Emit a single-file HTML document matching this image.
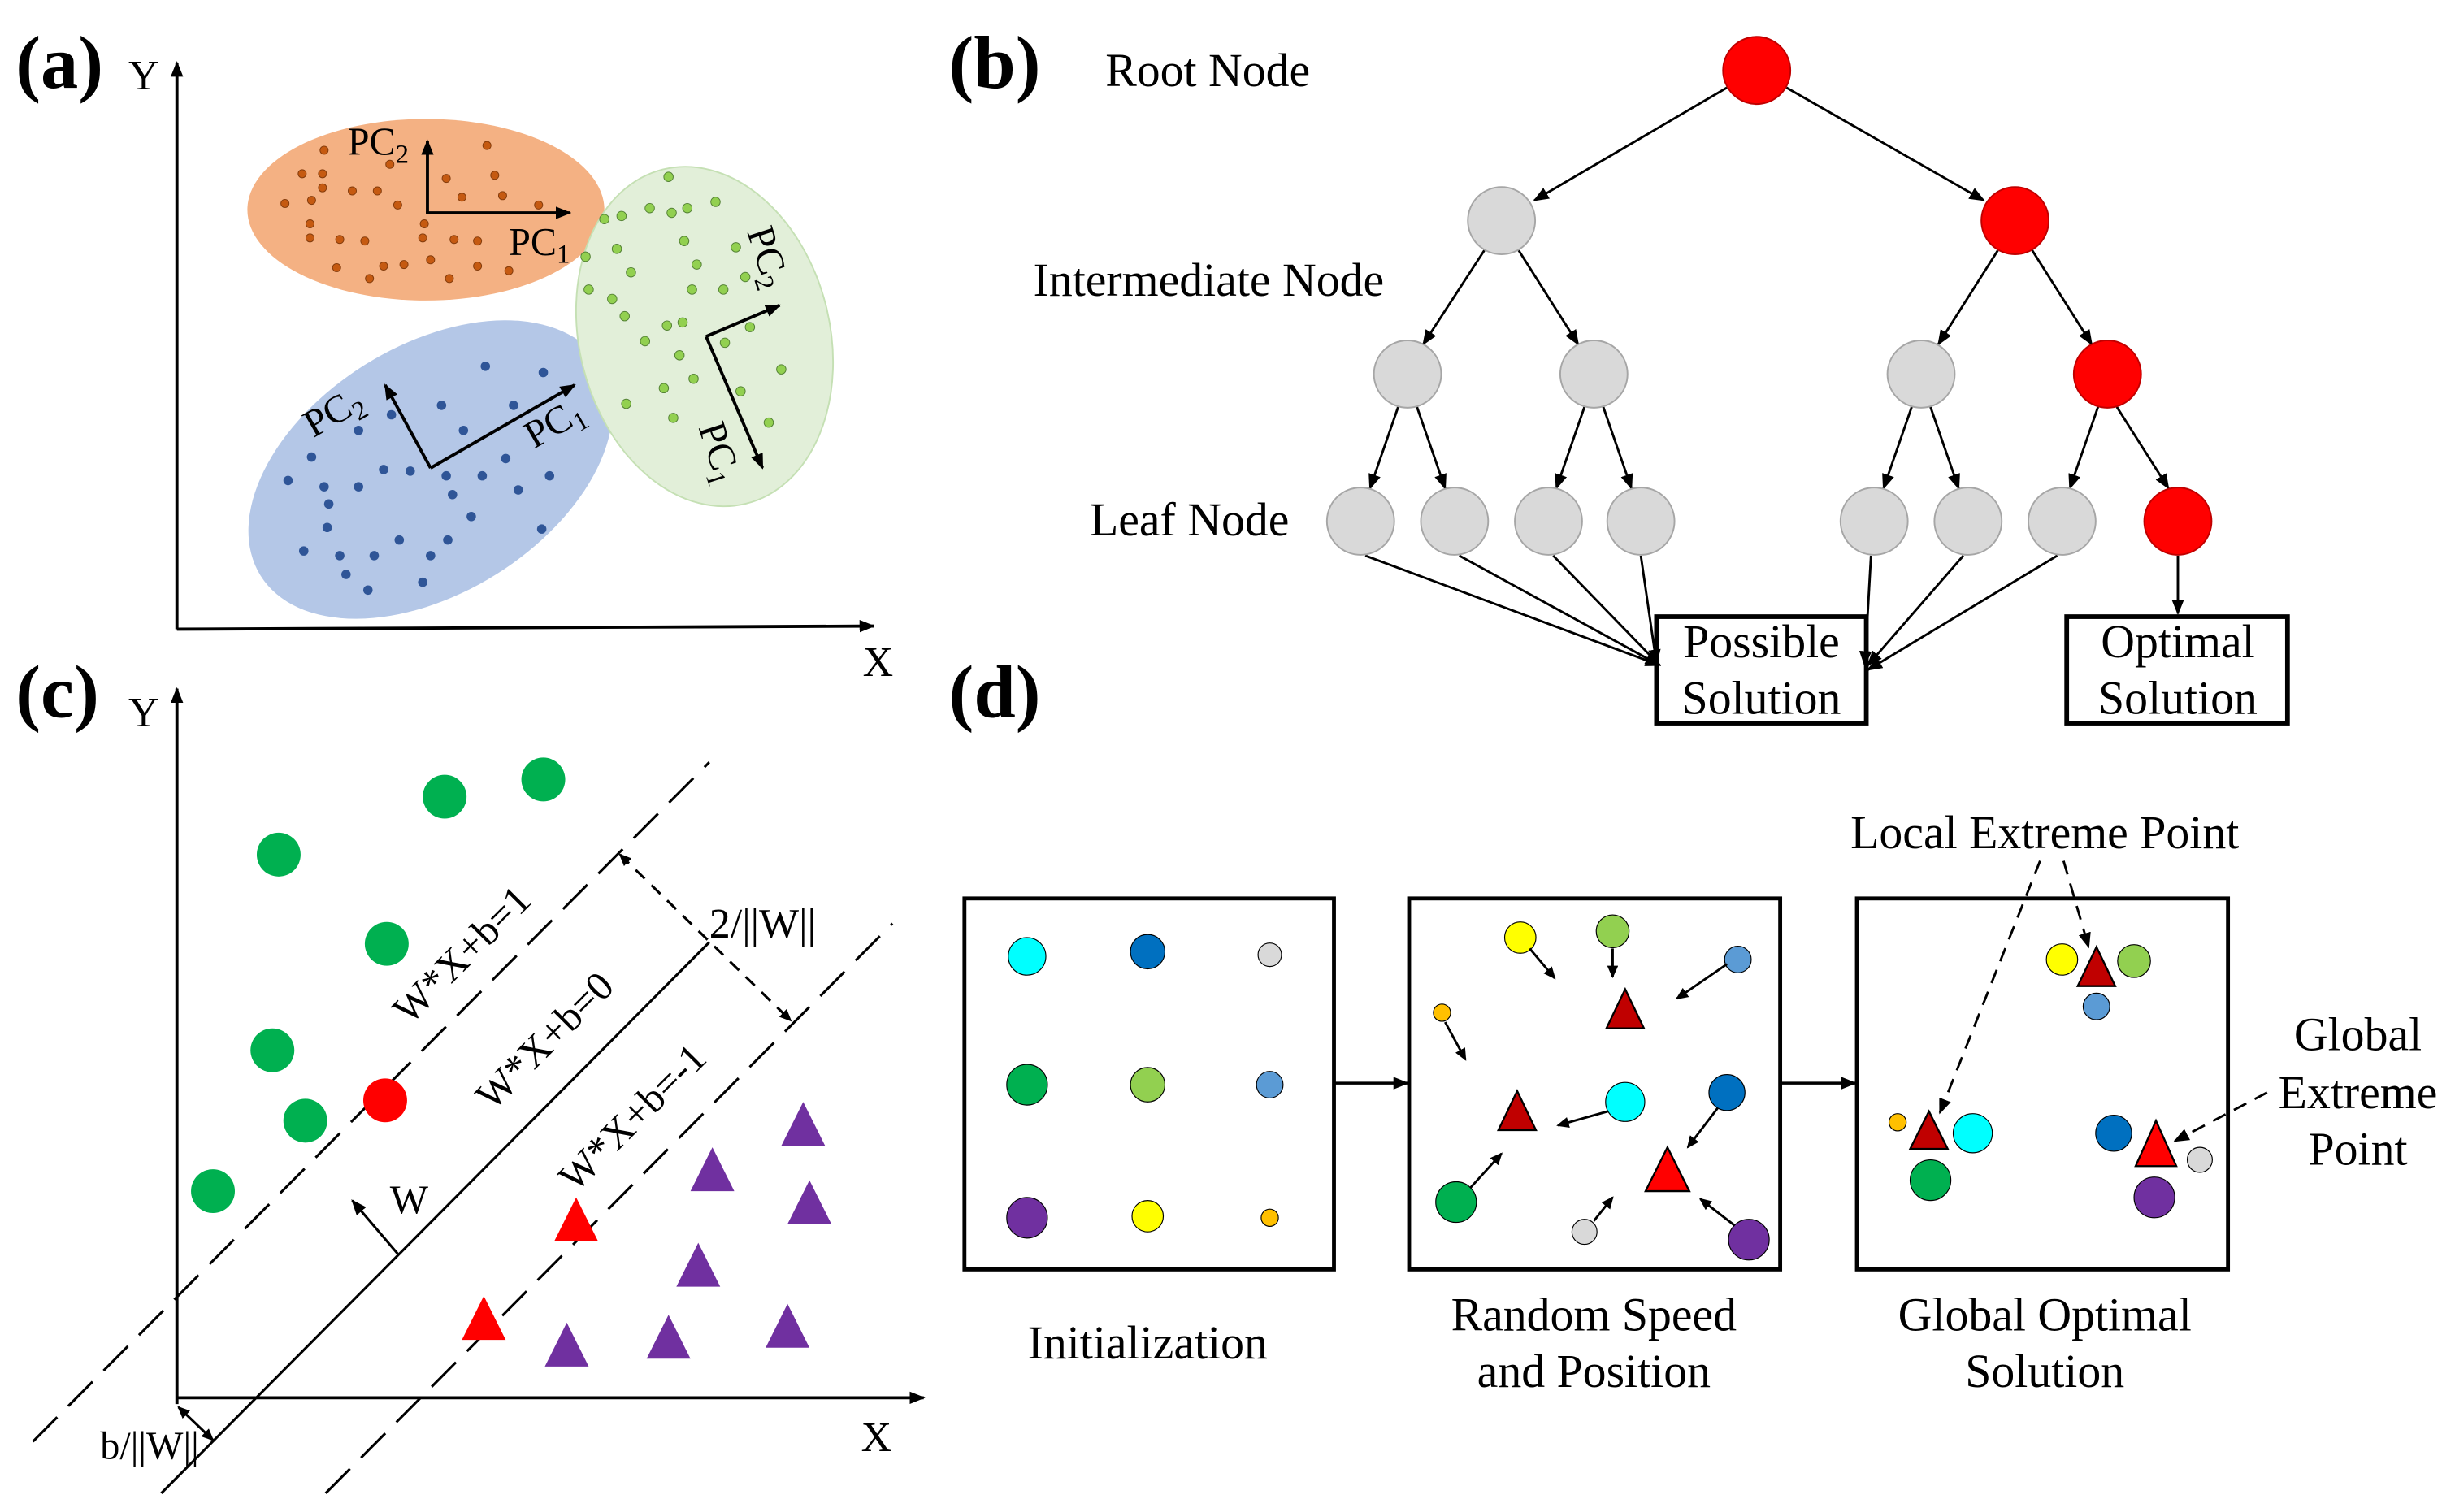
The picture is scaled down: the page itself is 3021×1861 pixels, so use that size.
<!DOCTYPE html>
<html><head><meta charset="utf-8"><style>html,body{margin:0;padding:0;background:#fff}svg{display:block}</style></head><body>
<svg width="3021" height="1861" viewBox="0 0 1568 966" preserveAspectRatio="none" xmlns="http://www.w3.org/2000/svg" font-family="Liberation Serif, serif">
<defs>
<marker id="ah" markerWidth="10" markerHeight="8" refX="9" refY="4" orient="auto" markerUnits="userSpaceOnUse"><path d="M0,0L10,4L0,8z" fill="#000"/></marker>
<marker id="ahs" markerWidth="8" markerHeight="7" refX="7" refY="3.5" orient="auto-start-reverse" markerUnits="userSpaceOnUse"><path d="M0,0L8,3.5L0,7z" fill="#000"/></marker>
</defs>
<!-- (a) -->
<text x="10" y="56" font-size="48" font-weight="bold">(a)</text>
<text x="82" y="57" font-size="27">Y</text>
<text x="551" y="432" font-size="27">X</text>
<line x1="113" y1="402" x2="113" y2="40" stroke="#000" stroke-width="2" marker-end="url(#ah)"/>
<line x1="113" y1="402" x2="558" y2="400" stroke="#000" stroke-width="2" marker-end="url(#ah)"/>
<ellipse cx="272" cy="134" rx="114" ry="58" fill="#f4b183"/>
<ellipse cx="275" cy="300" rx="128" ry="79" transform="rotate(-32 275 300)" fill="#b4c7e7"/>
<ellipse cx="450" cy="215" rx="80" ry="110" transform="rotate(-14 450 215)" fill="#e2efd9" stroke="#c5e0b4"/>
<g fill="#c55a11" stroke="#843c0c" stroke-width="0.5">
<circle cx="207" cy="96" r="2.6"/><circle cx="311" cy="93" r="2.6"/><circle cx="249" cy="105" r="2.6"/><circle cx="193" cy="111" r="2.6"/><circle cx="206" cy="111" r="2.6"/><circle cx="285" cy="114" r="2.6"/><circle cx="316" cy="112" r="2.6"/><circle cx="206" cy="120" r="2.6"/><circle cx="225" cy="122" r="2.6"/><circle cx="241" cy="122" r="2.6"/><circle cx="199" cy="128" r="2.6"/><circle cx="182" cy="130" r="2.6"/><circle cx="254" cy="131" r="2.6"/><circle cx="295" cy="126" r="2.6"/><circle cx="321" cy="125" r="2.6"/><circle cx="344" cy="131" r="2.6"/><circle cx="198" cy="143" r="2.6"/><circle cx="271" cy="143" r="2.6"/><circle cx="198" cy="152" r="2.6"/><circle cx="217" cy="153" r="2.6"/><circle cx="233" cy="154" r="2.6"/><circle cx="270" cy="152" r="2.6"/><circle cx="290" cy="153" r="2.6"/><circle cx="305" cy="154" r="2.6"/><circle cx="215" cy="171" r="2.6"/><circle cx="245" cy="170" r="2.6"/><circle cx="258" cy="169" r="2.6"/><circle cx="275" cy="166" r="2.6"/><circle cx="305" cy="170" r="2.6"/><circle cx="236" cy="178" r="2.6"/><circle cx="287" cy="178" r="2.6"/><circle cx="325" cy="173" r="2.6"/>
</g>
<g fill="#92d050" stroke="#548235" stroke-width="0.5">
<circle cx="427" cy="113" r="3"/><circle cx="457" cy="129" r="3"/><circle cx="415" cy="133" r="3"/><circle cx="429" cy="136" r="3"/><circle cx="439" cy="133" r="3"/><circle cx="386" cy="140" r="3"/><circle cx="397" cy="138" r="3"/><circle cx="374" cy="164" r="3"/><circle cx="394" cy="159" r="3"/><circle cx="437" cy="154" r="3"/><circle cx="470" cy="158" r="3"/><circle cx="445" cy="169" r="3"/><circle cx="403" cy="174" r="3"/><circle cx="476" cy="177" r="3"/><circle cx="376" cy="185" r="3"/><circle cx="391" cy="191" r="3"/><circle cx="442" cy="185" r="3"/><circle cx="462" cy="185" r="3"/><circle cx="399" cy="202" r="3"/><circle cx="426" cy="208" r="3"/><circle cx="436" cy="206" r="3"/><circle cx="479" cy="209" r="3"/><circle cx="412" cy="218" r="3"/><circle cx="463" cy="219" r="3"/><circle cx="434" cy="227" r="3"/><circle cx="499" cy="236" r="3"/><circle cx="443" cy="242" r="3"/><circle cx="424" cy="248" r="3"/><circle cx="473" cy="250" r="3"/><circle cx="400" cy="258" r="3"/><circle cx="430" cy="267" r="3"/><circle cx="491" cy="270" r="3"/>
</g>
<g fill="#2f5597">
<circle cx="310" cy="234" r="3"/><circle cx="347" cy="238" r="3"/><circle cx="282" cy="259" r="3"/><circle cx="328" cy="259" r="3"/><circle cx="250" cy="265" r="3"/><circle cx="229" cy="275" r="3"/><circle cx="296" cy="275" r="3"/><circle cx="199" cy="292" r="3"/><circle cx="323" cy="293" r="3"/><circle cx="245" cy="300" r="3"/><circle cx="262" cy="301" r="3"/><circle cx="285" cy="304" r="3"/><circle cx="308" cy="304" r="3"/><circle cx="351" cy="304" r="3"/><circle cx="184" cy="307" r="3"/><circle cx="207" cy="311" r="3"/><circle cx="229" cy="311" r="3"/><circle cx="289" cy="316" r="3"/><circle cx="331" cy="313" r="3"/><circle cx="210" cy="322" r="3"/><circle cx="301" cy="330" r="3"/><circle cx="209" cy="337" r="3"/><circle cx="346" cy="338" r="3"/><circle cx="255" cy="345" r="3"/><circle cx="286" cy="345" r="3"/><circle cx="194" cy="352" r="3"/><circle cx="217" cy="355" r="3"/><circle cx="239" cy="355" r="3"/><circle cx="275" cy="355" r="3"/><circle cx="221" cy="367" r="3"/><circle cx="270" cy="372" r="3"/><circle cx="235" cy="377" r="3"/>
</g>
<g stroke="#000" stroke-width="2" fill="none">
<line x1="273" y1="136" x2="273" y2="90" marker-end="url(#ah)"/><line x1="272" y1="136" x2="364" y2="136" marker-end="url(#ah)"/>
<line x1="451" y1="215" x2="498" y2="195" marker-end="url(#ah)"/><line x1="451" y1="215" x2="487" y2="299" marker-end="url(#ah)"/>
<line x1="275" y1="299" x2="246" y2="246" marker-end="url(#ah)"/><line x1="275" y1="299" x2="367" y2="246" marker-end="url(#ah)"/>
</g>
<g font-size="25">
<text x="222" y="99">PC<tspan font-size="17" dy="5">2</tspan></text>
<text x="325" y="163">PC<tspan font-size="17" dy="5">1</tspan></text>
<text transform="translate(477,148) rotate(72)">PC<tspan font-size="17" dy="5">2</tspan></text>
<text transform="translate(446,273) rotate(72)">PC<tspan font-size="17" dy="5">1</tspan></text>
<text transform="translate(200,280) rotate(-30)">PC<tspan font-size="17" dy="5">2</tspan></text>
<text transform="translate(341,287) rotate(-30)">PC<tspan font-size="17" dy="5">1</tspan></text>
</g>
<!-- (b) -->
<text x="606" y="56" font-size="48" font-weight="bold">(b)</text>
<g font-size="30">
<text x="706" y="55">Root Node</text>
<text x="660" y="189">Intermediate Node</text>
<text x="696" y="342">Leaf Node</text>
</g>
<g stroke="#000" stroke-width="1.5" marker-end="url(#ah)">
<line x1="1103" y1="56" x2="980" y2="128"/><line x1="1141" y1="56" x2="1267" y2="128"/>
<line x1="948" y1="160" x2="909" y2="220"/><line x1="970" y1="160" x2="1008" y2="220"/>
<line x1="1276" y1="160" x2="1238" y2="220"/><line x1="1298" y1="160" x2="1336" y2="220"/>
<line x1="893" y1="260" x2="875" y2="312"/><line x1="905" y1="260" x2="923" y2="312"/>
<line x1="1012" y1="260" x2="994" y2="312"/><line x1="1024" y1="260" x2="1042" y2="312"/>
<line x1="1221" y1="260" x2="1203" y2="312"/><line x1="1233" y1="260" x2="1251" y2="312"/>
<line x1="1340" y1="260" x2="1322" y2="312"/><line x1="1352" y1="260" x2="1385" y2="312"/>
<line x1="872" y1="355" x2="1060" y2="425"/><line x1="932" y1="355" x2="1060" y2="425"/>
<line x1="992" y1="355" x2="1060" y2="425"/><line x1="1048" y1="355" x2="1058" y2="424"/>
<line x1="1195" y1="355" x2="1191" y2="425"/><line x1="1254" y1="355" x2="1193" y2="425"/>
<line x1="1314" y1="355" x2="1193" y2="428"/><line x1="1391" y1="355" x2="1391" y2="392"/>
</g>
<g fill="#d9d9d9" stroke="#a6a6a6" stroke-width="1">
<circle cx="959" cy="141" r="21.5"/><circle cx="899" cy="239" r="21.5"/><circle cx="1018" cy="239" r="21.5"/><circle cx="1227" cy="239" r="21.5"/>
<circle cx="869" cy="333" r="21.5"/><circle cx="929" cy="333" r="21.5"/><circle cx="989" cy="333" r="21.5"/><circle cx="1048" cy="333" r="21.5"/><circle cx="1197" cy="333" r="21.5"/><circle cx="1257" cy="333" r="21.5"/><circle cx="1317" cy="333" r="21.5"/>
</g>
<g fill="#ff0000" stroke="#c00000" stroke-width="1">
<circle cx="1122" cy="45" r="21.5"/><circle cx="1287" cy="141" r="21.5"/><circle cx="1346" cy="239" r="21.5"/><circle cx="1391" cy="333" r="21.5"/>
</g>
<rect x="1058" y="394" width="134" height="68" fill="none" stroke="#000" stroke-width="3"/>
<rect x="1320" y="394" width="141" height="68" fill="none" stroke="#000" stroke-width="3"/>
<g font-size="30" text-anchor="middle">
<text x="1125" y="420">Possible</text><text x="1125" y="456">Solution</text>
<text x="1391" y="420">Optimal</text><text x="1391" y="456">Solution</text>
</g>
<!-- (c) -->
<text x="10" y="458" font-size="48" font-weight="bold">(c)</text>
<text x="82" y="464" font-size="27">Y</text>
<text x="550" y="927" font-size="27">X</text>
<line x1="113" y1="897" x2="113" y2="440" stroke="#000" stroke-width="2" marker-end="url(#ah)"/>
<line x1="113" y1="893" x2="590" y2="893" stroke="#000" stroke-width="2" marker-end="url(#ah)"/>
<g stroke="#000" stroke-width="1.6" fill="none">
<line x1="21" y1="921" x2="453" y2="487" stroke-dasharray="22,10"/>
<line x1="103" y1="954" x2="453" y2="602"/>
<line x1="208" y1="954" x2="570" y2="590" stroke-dasharray="22,10"/>
<line x1="254" y1="801" x2="225" y2="767" marker-end="url(#ah)"/>
<line x1="396" y1="546" x2="505" y2="652" stroke-dasharray="8,6" marker-start="url(#ahs)" marker-end="url(#ahs)"/>
<line x1="114" y1="899" x2="136" y2="920" marker-start="url(#ahs)" marker-end="url(#ahs)"/>
</g>
<g fill="#00b050">
<circle cx="347" cy="498" r="14"/><circle cx="284" cy="509" r="14"/><circle cx="178" cy="546" r="14"/><circle cx="247" cy="603" r="14"/><circle cx="174" cy="671" r="14"/><circle cx="195" cy="716" r="14"/><circle cx="136" cy="761" r="14"/>
</g>
<circle cx="246" cy="703" r="14" fill="#ff0000"/>
<g fill="#7030a0">
<path d="M513,704l14,28h-28z"/><path d="M455,733l14,28h-28z"/><path d="M517,754l14,28h-28z"/><path d="M446,794l14,28h-28z"/><path d="M503,833l14,28h-28z"/><path d="M427,840l14,28h-28z"/><path d="M362,845l14,28h-28z"/>
</g>
<g fill="#ff0000"><path d="M368,765l14,28h-28z"/><path d="M309,828l14,28h-28z"/></g>
<g font-size="26">
<text transform="translate(301,616) rotate(-45)" text-anchor="middle">W*X+b=1</text>
<text transform="translate(354,671) rotate(-45)" text-anchor="middle">W*X+b=0</text>
<text transform="translate(410,720) rotate(-45)" text-anchor="middle">W*X+b=-1</text>
<text x="249" y="775">W</text>
<text x="453" y="599" font-size="27">2/||W||</text>
<text x="64" y="932" font-size="25">b/||W||</text>
</g>
<!-- (d) -->
<text x="606" y="458" font-size="48" font-weight="bold">(d)</text>
<g fill="none" stroke="#000" stroke-width="2.5">
<rect x="616" y="574" width="236" height="237"/><rect x="900" y="574" width="237" height="237"/><rect x="1186" y="574" width="237" height="237"/>
</g>
<g stroke="#000" stroke-width="1.8" marker-end="url(#ah)">
<line x1="853" y1="692" x2="899" y2="692"/><line x1="1138" y1="692" x2="1185" y2="692"/>
</g>
<g stroke="#000" stroke-width="0.6">
<circle cx="656" cy="611" r="12" fill="#00ffff"/><circle cx="733" cy="608" r="11" fill="#0070c0"/><circle cx="811" cy="610" r="7.5" fill="#d9d9d9"/>
<circle cx="656" cy="693" r="13" fill="#00b050"/><circle cx="733" cy="693" r="11" fill="#92d050"/><circle cx="811" cy="693" r="8.5" fill="#5b9bd5"/>
<circle cx="656" cy="778" r="13" fill="#7030a0"/><circle cx="733" cy="777" r="10" fill="#ffff00"/><circle cx="811" cy="778" r="5.5" fill="#ffc000"/>
<circle cx="971" cy="599" r="10" fill="#ffff00"/><circle cx="1030" cy="595" r="10.5" fill="#92d050"/><circle cx="1110" cy="613" r="8.5" fill="#5b9bd5"/><circle cx="921" cy="647" r="5.5" fill="#ffc000"/>
<circle cx="1038" cy="704" r="12.5" fill="#00ffff"/><circle cx="1103" cy="698" r="11.5" fill="#0070c0"/><circle cx="930" cy="768" r="13" fill="#00b050"/><circle cx="1012" cy="787" r="8" fill="#d9d9d9"/><circle cx="1117" cy="792" r="13" fill="#7030a0"/>
<circle cx="1317" cy="613" r="10" fill="#ffff00"/><circle cx="1363" cy="614" r="10.5" fill="#92d050"/><circle cx="1339" cy="643" r="8.5" fill="#5b9bd5"/><circle cx="1212" cy="717" r="5.5" fill="#ffc000"/>
<circle cx="1260" cy="724" r="12.5" fill="#00ffff"/><circle cx="1233" cy="754" r="13" fill="#00b050"/><circle cx="1350" cy="724" r="11.5" fill="#0070c0"/><circle cx="1405" cy="741" r="8" fill="#d9d9d9"/><circle cx="1376" cy="765" r="13" fill="#7030a0"/>
</g>
<g stroke="#000" stroke-width="1.2">
<path d="M1038,632l12,25h-24z" fill="#c00000"/><path d="M969,697l12,25h-24z" fill="#c00000"/><path d="M1065,733l14,28h-28z" fill="#ff0000"/>
<path d="M1339,605l12,25h-24z" fill="#c00000"/><path d="M1232,710l12,24h-24z" fill="#c00000"/><path d="M1377,716l13,29h-26z" fill="#ff0000"/>
</g>
<g stroke="#000" stroke-width="1.5" marker-end="url(#ahs)">
<line x1="977" y1="606" x2="993" y2="625"/><line x1="1030" y1="606" x2="1030" y2="624"/><line x1="1103" y1="616" x2="1071" y2="638"/>
<line x1="923" y1="653" x2="936" y2="677"/><line x1="1027" y1="710" x2="995" y2="719"/><line x1="1097" y1="708" x2="1078" y2="733"/>
<line x1="939" y1="759" x2="959" y2="737"/><line x1="1018" y1="780" x2="1030" y2="765"/><line x1="1108" y1="783" x2="1086" y2="766"/>
</g>
<g stroke="#000" stroke-width="1.5" stroke-dasharray="9,6" marker-end="url(#ah)">
<line x1="1303" y1="550" x2="1239" y2="711"/><line x1="1318" y1="550" x2="1334" y2="605"/><line x1="1448" y1="698" x2="1389" y2="729"/>
</g>
<g font-size="30" text-anchor="middle">
<text x="1306" y="542">Local Extreme Point</text>
<text x="1506" y="671">Global</text><text x="1506" y="708">Extreme</text><text x="1506" y="744">Point</text>
<text x="733" y="868">Initialization</text>
<text x="1018" y="850">Random Speed</text><text x="1018" y="886">and Position</text>
<text x="1306" y="850">Global Optimal</text><text x="1306" y="886">Solution</text>
</g>
</svg>
</body></html>
